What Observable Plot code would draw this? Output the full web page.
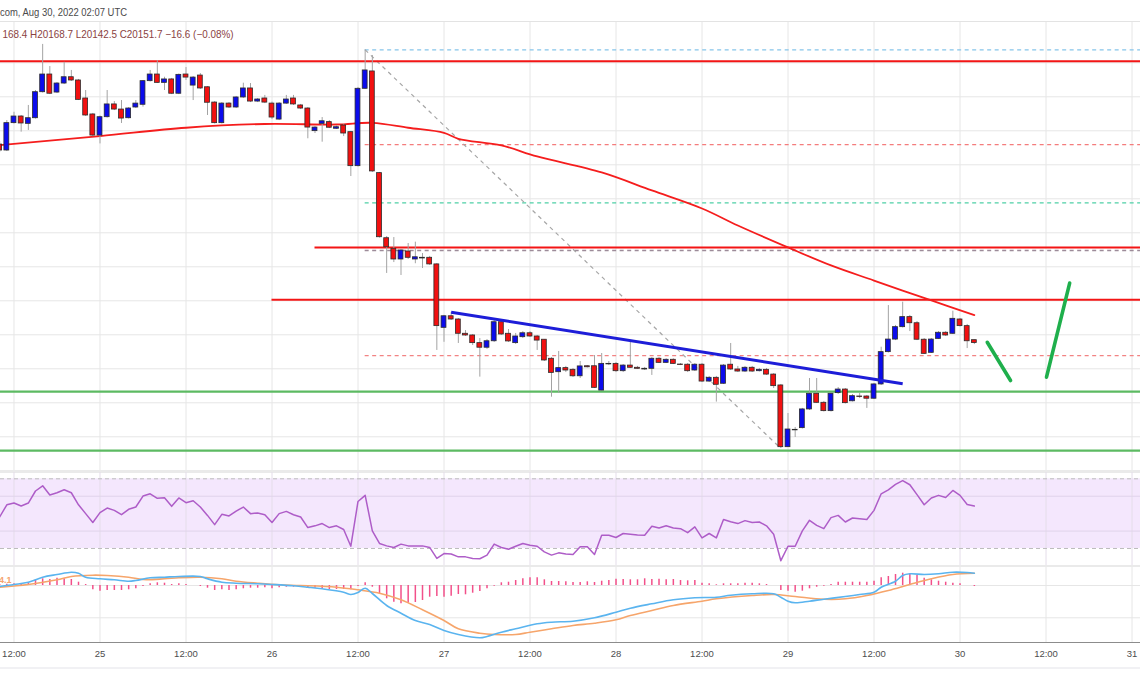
<!DOCTYPE html>
<html><head><meta charset="utf-8">
<script src="https://cdn.jsdelivr.net/npm/d3@7"></script>
<script src="https://cdn.jsdelivr.net/npm/@observablehq/plot@0.6"></script>
<style>
html,body{margin:0;padding:0;background:#fff;width:1140px;height:694px;overflow:hidden;font-family:"Liberation Sans",Arial,sans-serif;}
.pane{position:absolute;left:0;width:1140px;overflow:hidden;}
.bar{position:absolute;left:0;width:1140px;}
#overlay{position:absolute;left:0;top:0;pointer-events:none;z-index:5;}
</style></head><body>
<div class="bar" style="top:21px;height:1px;background:#e3e3e3"></div>
<div id="main" class="pane" style="top:22px;height:448px"></div>
<div class="bar" style="top:470px;height:2.5px;background:#eaeaea"></div>
<div id="rsi" class="pane" style="top:472px;height:93px"></div>
<div class="bar" style="top:565px;height:2px;background:#eaeaea"></div>
<div id="macd" class="pane" style="top:567px;height:102px"></div>
<div class="bar" style="top:641.5px;height:1.6px;background:#8c8c8c"></div>
<div class="bar" style="top:667px;height:2px;background:#f1f1f4"></div>
<svg id="overlay" width="1140" height="694">
  <text x="0" y="15.5" font-size="10.5" fill="#4a4a4a" textLength="127" lengthAdjust="spacingAndGlyphs" font-family="Liberation Sans, Arial, sans-serif">com, Aug 30, 2022 02:07 UTC</text>
  <text x="2.5" y="37.5" font-size="10.5" fill="#8a4242" textLength="231" lengthAdjust="spacingAndGlyphs" font-family="Liberation Sans, Arial, sans-serif">168.4  H20168.7  L20142.5  C20151.7  −16.6 (−0.08%)</text>
  <text x="-1" y="583" font-size="9" font-weight="bold" fill="#f5a36c" font-family="Liberation Sans, Arial, sans-serif">4.1</text>
</svg>
<script>
// ---------- data (hourly candles, BTC/USD, from 2022-08-24 10:00 UTC) ----------
const candleStart = "2022-08-24T10:00:00Z";
const opens = [
21319,21284,21445,21484,21441,21474,21627,21731,21625,21678,
21715,21696,21590,21496,21372,21480,21555,21525,21474,21537,
21553,21692,21731,21682,21702,21618,21731,21666,21725,21656,
21566,21445,21560,21537,21596,21649,21572,21590,21560,21466,
21560,21590,21549,21531,21398,21441,21451,21412,21431,21392,
21192,21647,21749,21151,20768,20706,20643,20690,20643,20653,
20653,20614,20241,20309,20290,20206,20196,20151,20124,20162,
20274,20206,20151,20186,20209,20190,20171,20059,19980,20004,
19994,19956,20015,20015,19872,20029,20029,19986,20019,20006,
20000,20000,20059,20035,20053,20025,20024,19990,20024,19925,
19947,19912,20024,19996,19984,20006,19986,19994,19966,19902,
19539,19641,19651,19761,19853,19800,19751,19857,19878,19809,
19837,19837,19824,19908,20098,20172,20245,20304,20268,20171,
20094,20176,20212,20206,20290,20251,20168.4];
const highs = [
21337,21460,21509,21490,21549,21637,21908,21778,21684,21803,
21755,21702,21637,21502,21487,21637,21572,21578,21537,21578,
21696,21755,21813,21715,21708,21734,21772,21719,21737,21660,
21572,21566,21566,21602,21680,21678,21590,21608,21569,21566,
21608,21608,21555,21537,21425,21478,21460,21431,21437,21396,
21655,21876,21843,21155,20778,20772,20702,20737,20745,20678,
20661,20619,20314,20331,20296,20225,20202,20178,20172,20284,
20284,20231,20208,20219,20219,20196,20172,20066,20102,20014,
20002,20043,20019,20078,20090,20043,20037,20025,20156,20014,
20008,20066,20066,20059,20059,20031,20031,20031,20031,19955,
19955,20025,20149,20014,20014,20014,20002,20002,19972,19908,
19737,19655,19767,19943,19943,19808,19861,19890,19884,19849,
19855,19843,19914,20127,20372,20255,20392,20314,20278,20178,
20178,20219,20219,20339,20296,20261,20168.7];
const lows = [
21272,21278,21440,21392,21402,21469,21622,21613,21619,21672,
21690,21578,21484,21366,21323,21475,21519,21443,21469,21531,
21539,21687,21678,21637,21613,21613,21696,21578,21643,21490,
21440,21440,21531,21531,21590,21566,21566,21560,21466,21460,
21555,21549,21525,21353,21384,21333,21413,21408,21366,21131,
21187,21643,21155,20769,20561,20625,20549,20643,20618,20590,
20608,20108,20156,20284,20149,20190,20137,19951,20114,20155,
20196,20155,20143,20178,20184,20108,20043,19833,19855,19978,
19949,19943,20005,19884,19869,20019,19978,19978,20002,19996,
19990,19961,20031,20031,20025,20019,19978,19984,19919,19919,
19804,19908,19990,19978,19978,19978,19981,19961,19884,19531,
19537,19596,19646,19755,19796,19746,19746,19849,19793,19805,
19825,19767,19819,19902,20093,20166,20240,20219,20166,20084,
20090,20172,20190,20202,20246,20119,20142.5];
const closes = [
21284,21445,21484,21443,21474,21627,21731,21618,21678,21715,
21696,21582,21490,21372,21480,21555,21525,21472,21531,21560,
21692,21731,21682,21702,21618,21729,21713,21713,21649,21565,
21445,21560,21537,21596,21649,21572,21584,21566,21478,21560,
21584,21555,21531,21419,21419,21456,21418,21421,21384,21192,
21647,21755,21161,20774,20715,20643,20696,20653,20656,20649,
20614,20251,20309,20290,20206,20196,20151,20124,20162,20274,
20202,20161,20190,20209,20190,20166,20049,19976,20004,19990,
19956,20014,20009,19888,20029,20026,19986,20019,20006,20000,
19996,20059,20035,20053,20029,20022,19986,20024,19925,19947,
19906,20019,19996,19984,20006,19984,19994,19966,19898,19539,
19643,19638,19761,19853,19800,19751,19853,19878,19798,19839,
19834,19824,19908,20098,20172,20245,20304,20268,20171,20088,
20172,20212,20196,20294,20251,20162,20151.7];

// 100-period moving average, sampled (hour index from candleStart -> price)
const maHours  = [0,14,26,37,47,52,57,62,64,70,75,84,91,98,103,110,116,122,130,136];
const maValues = [21316,21369,21418,21440,21437,21447,21418,21388,21353,21314,21249,21155,21049,20943,20843,20714,20608,20519,20402,20316];

// horizontal levels
const resistanceLevels = [21809, 20714, 20406];
const resistanceStart  = ["2022-08-24T08:00:00Z", "2022-08-26T06:00:00Z", "2022-08-26T00:00:00Z"];
const supportLevels    = [19866, 19519];
const fibLevels        = [21876, 21319, 20976, 20696, 20078];
const fibStart         = "2022-08-26T13:00:00Z";
const fibSwing         = {from: "2022-08-26T13:00:00Z", high: 21876, to: "2022-08-28T23:00:00Z", low: 19531};
const trendLine        = {from: "2022-08-27T01:00:00Z", p1: 20333, to: "2022-08-29T16:00:00Z", p2: 19912};
const projectionTimes  = [["2022-08-30T03:48:00Z", "2022-08-30T07:03:00Z"], ["2022-08-30T12:04:00Z", "2022-08-30T15:18:00Z"]];
const projectionPrices = [[20156, 19931], [19951, 20504]];
const priceGrid        = [19600,19800,20000,20200,20400,20600,20800,21000,21200,21400,21600,21800];

// RSI (14), one value per candle
const rsiValues = [
48.1,55.1,56.1,54.4,56.1,63.0,66.0,60.7,62.0,63.7,
62.0,55.1,50.0,44.9,50.6,53.2,51.9,49.4,52.5,53.8,
60.1,61.4,58.8,59.1,54.2,59.0,56.3,57.4,53.8,49.0,
43.7,49.6,48.7,51.5,53.8,50.0,50.4,49.4,44.9,50.0,
51.3,49.4,48.1,42.0,43.0,44.3,42.0,43.0,40.9,31.3,
57.0,60.5,40.1,32.9,31.5,30.6,32.5,31.5,31.5,31.5,
30.6,24.3,27.1,26.8,25.2,25.2,24.3,24.1,26.2,32.5,
30.6,29.6,31.3,32.9,31.9,31.3,28.1,26.2,27.5,26.8,
26.6,31.0,31.0,26.6,37.6,37.6,36.3,38.6,38.2,37.8,
37.6,42.8,41.8,43.1,41.8,41.4,39.1,42.4,36.1,38.6,
36.1,46.6,45.3,44.3,46.0,44.9,45.2,43.0,38.2,23.0,
31.3,31.3,40.1,46.2,43.3,41.4,47.7,49.0,45.2,47.5,
47.1,46.6,51.9,61.4,63.7,66.8,69.0,66.6,60.9,55.1,
59.0,60.5,59.3,63.3,60.5,55.3,54.4];
const rsiBands = [30, 70];
const rsiGrid  = [40, 60];

const macdHours  = [0,2,4,6,8,10,11,12,14,16,18,19,21,23,25,28,29,31,33,36,38,41,43,45,48,49,50,51,52,54,56,58,60,62,64,67,68,70,72,75,77,80,83,86,88,91,94,97,100,102,105,108,109,110,111,113,115,118,120,122,123,125,126,127,129,131,133,135,136];
const macdValues = [-1,1,3.3,8.3,11,13.3,12.3,8.3,6.7,5.7,4.3,5,7.7,8.3,9,9,6.7,3.3,2.3,1.7,1,-0.3,-1.7,-3.3,-6.7,-9,-7,-2.7,-8,-20,-27.7,-35,-39,-45,-49,-52.3,-51,-46.7,-43.3,-38.3,-36.7,-35.7,-32.3,-26.7,-22.7,-18.3,-14.3,-12.3,-11.7,-9.7,-8.3,-8.3,-11.7,-15.7,-17.3,-15.7,-13.7,-11,-9,-6.7,-1.7,4.3,10,11.7,11,11.7,13.3,13,12.3];
const signalHours  = [0,4,8,10,13,15,18,20,23,25,28,31,33,36,39,42,47,50,53,56,59,62,64,67,69,72,74,77,80,83,86,88,91,94,98,100,105,108,111,115,118,121,124,127,130,133,136];
const signalValues = [-1.7,1,5.7,9,10.3,10,8.3,6,6.7,7.7,8.3,6.7,4.3,2.3,0.7,0,-1.7,-4.3,-7.7,-14.3,-24.3,-35,-43.3,-47.7,-49,-49,-46.7,-43.3,-40,-37.7,-34.3,-30,-25,-20,-15.7,-13.3,-10,-9,-11,-13.7,-13.3,-10,-5,1,6.7,11,12.3];
const histValues = [
1,1.3,1.7,2,3,5.7,6.7,6,7.3,6.7,
6,3.3,1,-4.3,-5.7,-5,-5,-5,-4.3,-3.3,
-1,1.7,2.7,2.3,1,1.7,1,0,-1,-2.7,
-5,-4.3,-5,-4.3,-3.3,-2.7,-2.7,-2.3,-3.3,-2.3,
-1.7,-1.7,-2,-2.3,-2.7,-3.3,-4,-4,-4,-4.3,
-1,2.7,-1.7,-8.3,-13.3,-16.7,-18.3,-17.7,-17,-15,
-11.7,-11,-11.7,-10.7,-9,-9.3,-7.7,-6,-3.3,-0.7,
2.7,3.3,5,6.7,7.7,7.7,5.7,4,4,3.7,
3,3,3.7,3,4.3,5,6.3,6,5.7,5.7,
6.7,6,6.3,5.7,6,5,4.7,5,2.3,1.7,
0.7,1.7,1.7,1.7,2.3,2.3,1.7,1,0,-5,
-5.7,-6.7,-5.7,-3.3,-1.7,-0.7,1,3.3,3.3,3.3,
3.3,3.3,4.3,7.7,9,11,12.3,11,10,7.3,
5.7,4.3,3.3,2.3,1.7,0,-1];
const macdGrid = [0, -32.3];

// time axis
const tickTimes = ["2022-08-24T12:00:00Z","2022-08-25T00:00:00Z","2022-08-25T12:00:00Z","2022-08-26T00:00:00Z","2022-08-26T12:00:00Z","2022-08-27T00:00:00Z","2022-08-27T12:00:00Z","2022-08-28T00:00:00Z","2022-08-28T12:00:00Z","2022-08-29T00:00:00Z","2022-08-29T12:00:00Z","2022-08-30T00:00:00Z","2022-08-30T12:00:00Z","2022-08-31T00:00:00Z"];
const tickLabels = ["12:00","25","12:00","26","12:00","27","12:00","28","12:00","29","12:00","30","12:00","31"];
const xDomainTimes = ["2022-08-24T10:07:00Z", "2022-08-31T01:11:00Z"];

// ---------- build ----------
const HOUR = 3600e3;
const t0 = Date.parse(candleStart);
const at = h => new Date(t0 + h * HOUR);
const D = s => new Date(s);
const xDom = xDomainTimes.map(D);
const ticks = tickTimes.map(D);
const labelOf = new Map(ticks.map((d, i) => [+d, tickLabels[i]]));
const half = 0.34 * HOUR;

const candles = opens.map((o, i) => ({t: at(i), o, h: highs[i], l: lows[i], c: closes[i]}));
const ma = maHours.map((h, i) => ({t: at(h), v: maValues[i]}));
const rsi = rsiValues.map((v, i) => ({t: at(i), v}));
const macd = macdHours.map((h, i) => ({t: at(h), v: macdValues[i]}));
const signal = signalHours.map((h, i) => ({t: at(h), v: signalValues[i]}));
const hist = histValues.map((v, i) => ({t: at(i), v}));

const gridColor = "#e6e6e6";
const fibColors = ["#86c5ea", "#f47c7c", "#4fd0a6", "#9d8b99", "#f28383"];

const mainPlot = Plot.plot({
  width: 1140, height: 448, margin: 0,
  style: {background: "transparent", overflow: "hidden"},
  x: {type: "utc", domain: xDom, axis: null},
  y: {domain: [19401.8, 22037], axis: null},
  color: {type: "identity"},
  marks: [
    Plot.ruleX(ticks, {stroke: gridColor}),
    Plot.ruleY(priceGrid, {stroke: gridColor}),
    ...fibLevels.map((v, i) => Plot.ruleY([v], {x1: () => D(fibStart), x2: () => xDom[1], stroke: fibColors[i], strokeDasharray: "4,3.5", strokeWidth: i === 3 ? 1.7 : 1.2})),
    Plot.link([fibSwing], {x1: d => D(d.from), y1: "high", x2: d => D(d.to), y2: "low", stroke: "#a6a6a6", strokeDasharray: "4,4", strokeWidth: 1.2}),
    ...resistanceLevels.map((v, i) => Plot.ruleY([v], {x1: () => D(resistanceStart[i]), x2: () => xDom[1], stroke: "#f31515", strokeWidth: 2})),
    ...supportLevels.map(v => Plot.ruleY([v], {x1: () => xDom[0], x2: () => xDom[1], stroke: "#5cba62", strokeWidth: 2.2})),
    Plot.line(ma, {x: "t", y: "v", stroke: "#f51d1d", strokeWidth: 1.8, curve: "catmull-rom"}),
    Plot.ruleX(candles, {x: "t", y1: "l", y2: "h", stroke: "#a3a3a3", strokeWidth: 1}),
    Plot.rect(candles, {x1: d => new Date(+d.t - half), x2: d => new Date(+d.t + half), y1: "o", y2: "c",
      fill: d => d.c >= d.o ? "#0b0bec" : "#f21010", stroke: "#2c2c2c", strokeWidth: 0.8}),
    Plot.link([trendLine], {x1: d => D(d.from), y1: "p1", x2: d => D(d.to), y2: "p2", stroke: "#1d1dd8", strokeWidth: 3}),
    ...projectionTimes.map((tt, i) => Plot.link([0], {x1: () => D(tt[0]), y1: () => projectionPrices[i][0], x2: () => D(tt[1]), y2: () => projectionPrices[i][1],
      stroke: "#1faf4c", strokeWidth: 3.6, strokeLinecap: "round"}))
  ]
});
document.getElementById("main").append(mainPlot);

const rsiPlot = Plot.plot({
  width: 1140, height: 93, margin: 0,
  style: {background: "transparent", overflow: "hidden"},
  x: {type: "utc", domain: xDom, axis: null},
  y: {domain: [19.67 + 0.57, 73.62], axis: null},
  marks: [
    Plot.rect([rsiBands], {x1: () => xDom[0], x2: () => xDom[1], y1: d => d[0], y2: d => d[1], fill: "#f4e7fd"}),
    Plot.ruleX(ticks, {stroke: "#e4dde9"}),
    Plot.ruleY(rsiGrid, {stroke: "#e0d3ea"}),
    Plot.ruleY(rsiBands, {stroke: "#bdbdbd", strokeDasharray: "4,3"}),
    Plot.line(rsi, {x: "t", y: "v", stroke: "#ae5dc8", strokeWidth: 1.5})
  ]
});
document.getElementById("rsi").append(rsiPlot);

const macdPlot = Plot.plot({
  width: 1140, height: 102, marginTop: 0, marginLeft: 0, marginRight: 0, marginBottom: 27,
  style: {background: "transparent", overflow: "visible", fontSize: "9.5px", fontFamily: "Liberation Sans, Arial, sans-serif", color: "#4d4d4d"},
  x: {type: "utc", domain: xDom, ticks: ticks, tickFormat: d => labelOf.get(+d), tickSize: 0, tickPadding: 8, label: null},
  y: {domain: [-57, 18], axis: null},
  marks: [
    Plot.ruleX(ticks, {stroke: gridColor, y1: -57, y2: 18}),
    Plot.ruleY(macdGrid, {stroke: gridColor}),
    Plot.ruleX(hist, {x: "t", y1: 0, y2: "v", stroke: "#f2508a", strokeWidth: 1.5}),
    Plot.line(signal, {x: "t", y: "v", stroke: "#f6a56b", strokeWidth: 1.6, curve: "catmull-rom"}),
    Plot.line(macd, {x: "t", y: "v", stroke: "#5ab4ef", strokeWidth: 1.6, curve: "catmull-rom"})
  ]
});
document.getElementById("macd").append(macdPlot);
</script>
</body></html>
